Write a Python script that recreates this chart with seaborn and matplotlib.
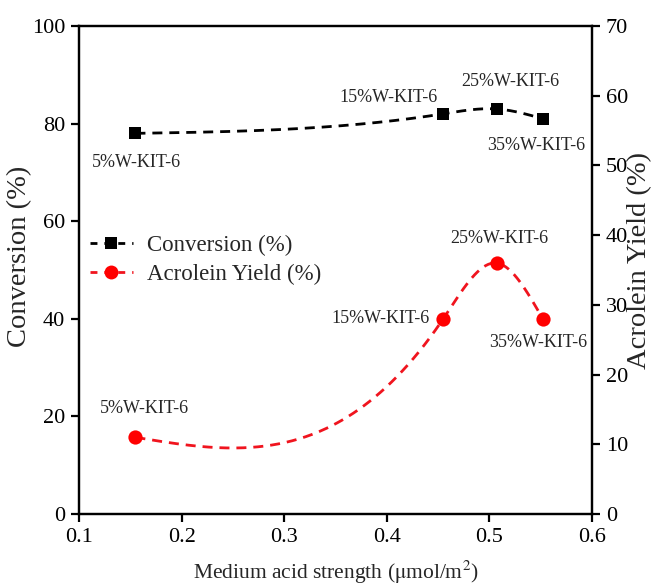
import numpy as np
import pandas as pd
import matplotlib
matplotlib.use("Agg")
import matplotlib.pyplot as plt
import seaborn as sns
from matplotlib.lines import Line2D

# ---- data ----
samples = ["5%W-KIT-6", "15%W-KIT-6", "25%W-KIT-6", "35%W-KIT-6"]
acid_strength = [0.155, 0.455, 0.507, 0.552]
conversion = [78.0, 82.0, 83.0, 81.0]
acrolein_yield = [11.0, 28.0, 36.0, 28.0]

sns.set_theme(style="white")
plt.rcParams["font.family"] = ["Liberation Serif", "DejaVu Serif"]
plt.rcParams["mathtext.fontset"] = "stix"


def natural_spline(x, y, n=300):
    x = np.asarray(x, float); y = np.asarray(y, float)
    k = len(x); h = np.diff(x)
    A = np.zeros((k, k)); b = np.zeros(k)
    A[0, 0] = A[-1, -1] = 1
    for i in range(1, k - 1):
        A[i, i - 1] = h[i - 1]; A[i, i] = 2 * (h[i - 1] + h[i]); A[i, i + 1] = h[i]
        b[i] = 3 * ((y[i + 1] - y[i]) / h[i] - (y[i] - y[i - 1]) / h[i - 1])
    c = np.linalg.solve(A, b)
    xs = np.linspace(x[0], x[-1], n); ys = np.empty_like(xs)
    for j, xv in enumerate(xs):
        i = min(np.searchsorted(x, xv, side="right") - 1, k - 2)
        d = xv - x[i]
        bb = (y[i + 1] - y[i]) / h[i] - h[i] * (2 * c[i] + c[i + 1]) / 3
        dd = (c[i + 1] - c[i]) / (3 * h[i])
        ys[j] = y[i] + bb * d + c[i] * d ** 2 + dd * d ** 3
    return xs, ys


DASH = (0, (3.6, 2.5))
RED = "#f0141e"

fig = plt.figure(figsize=(6.56, 5.87), dpi=100)
ax = fig.add_axes([79 / 656, 1 - 514 / 587, 513 / 656, 488 / 587])
ax2 = ax.twinx()

# conversion (left)
sx, sy = natural_spline(acid_strength, conversion)
sns.lineplot(x=sx, y=sy, ax=ax, color="black", linestyle=DASH, lw=2)
sns.scatterplot(x=acid_strength, y=conversion, ax=ax, marker="s", s=78,
                color="black", edgecolor="black", linewidth=0, zorder=5)

# acrolein (right)
rx, ry = natural_spline(acid_strength, acrolein_yield)
sns.lineplot(x=rx, y=ry, ax=ax2, color=RED, linestyle=DASH, lw=2)
sns.scatterplot(x=acid_strength, y=acrolein_yield, ax=ax2, marker="o", s=105,
                color="#ff0000", edgecolor="#ff0000", linewidth=0, zorder=5)

ax.set_xlim(0.1, 0.6)
ax.set_ylim(0, 100)
ax2.set_ylim(0, 70)
ax.set_xticks([0.1, 0.2, 0.3, 0.4, 0.5, 0.6])
ax.set_yticks([0, 20, 40, 60, 80, 100])
ax2.set_yticks([0, 10, 20, 30, 40, 50, 60, 70])

for a in (ax, ax2):
    for s in a.spines.values():
        s.set_color("black"); s.set_linewidth(1.6)
    a.tick_params(direction="out", length=6, width=1.6, labelsize=16,
                  colors="black", pad=4)
ax.tick_params(axis="both", left=True, bottom=True)
ax2.tick_params(axis="y", right=True)
ax.grid(False); ax2.grid(False)

ax.set_xlabel(r"Medium acid strength ($\mathrm{\mu}$mol/m$^{2}$)", fontsize=15.5)
ax.set_ylabel("Conversion (%)", fontsize=20.5)
ax2.set_ylabel("Acrolein Yield (%)", fontsize=20.5)
ax.xaxis.set_label_coords(0.5, -0.092)
ax.yaxis.set_label_coords(-0.092, 0.527)
ax2.yaxis.set_label_coords(1.068, 0.52)

# annotations
conv_off = [(1, -29), (-55, 16), (14, 27), (-7, -27)]
yld_off = [(9, 29), (-63, 0), (3, 25), (-5, -24)]
for lab, xv, yv, off in zip(samples, acid_strength, conversion, conv_off):
    ax.annotate(lab, (xv, yv), xytext=off, textcoords="offset pixels",
                ha="center", va="center", fontsize=13)
for lab, xv, yv, off in zip(samples, acid_strength, acrolein_yield, yld_off):
    ax2.annotate(lab, (xv, yv), xytext=off, textcoords="offset pixels",
                 ha="center", va="center", fontsize=13)

handles = [
    Line2D([], [], color="black", linestyle=(0, (2.5, 2.5)), lw=2, marker="s",
           markersize=8.5, markeredgewidth=0),
    Line2D([], [], color=RED, linestyle=(0, (2.5, 2.5)), lw=2, marker="o",
           markersize=10, markerfacecolor="#ff0000", markeredgewidth=0),
]
ax.legend(handles, ["Conversion (%)", "Acrolein Yield (%)"], loc="upper left",
          bbox_to_anchor=(-0.015, 0.61), frameon=False, fontsize=16.5,
          handlelength=1.9, handletextpad=0.6, labelspacing=0.36,
          borderpad=0.3)

fig.savefig("out.png", dpi=100)
